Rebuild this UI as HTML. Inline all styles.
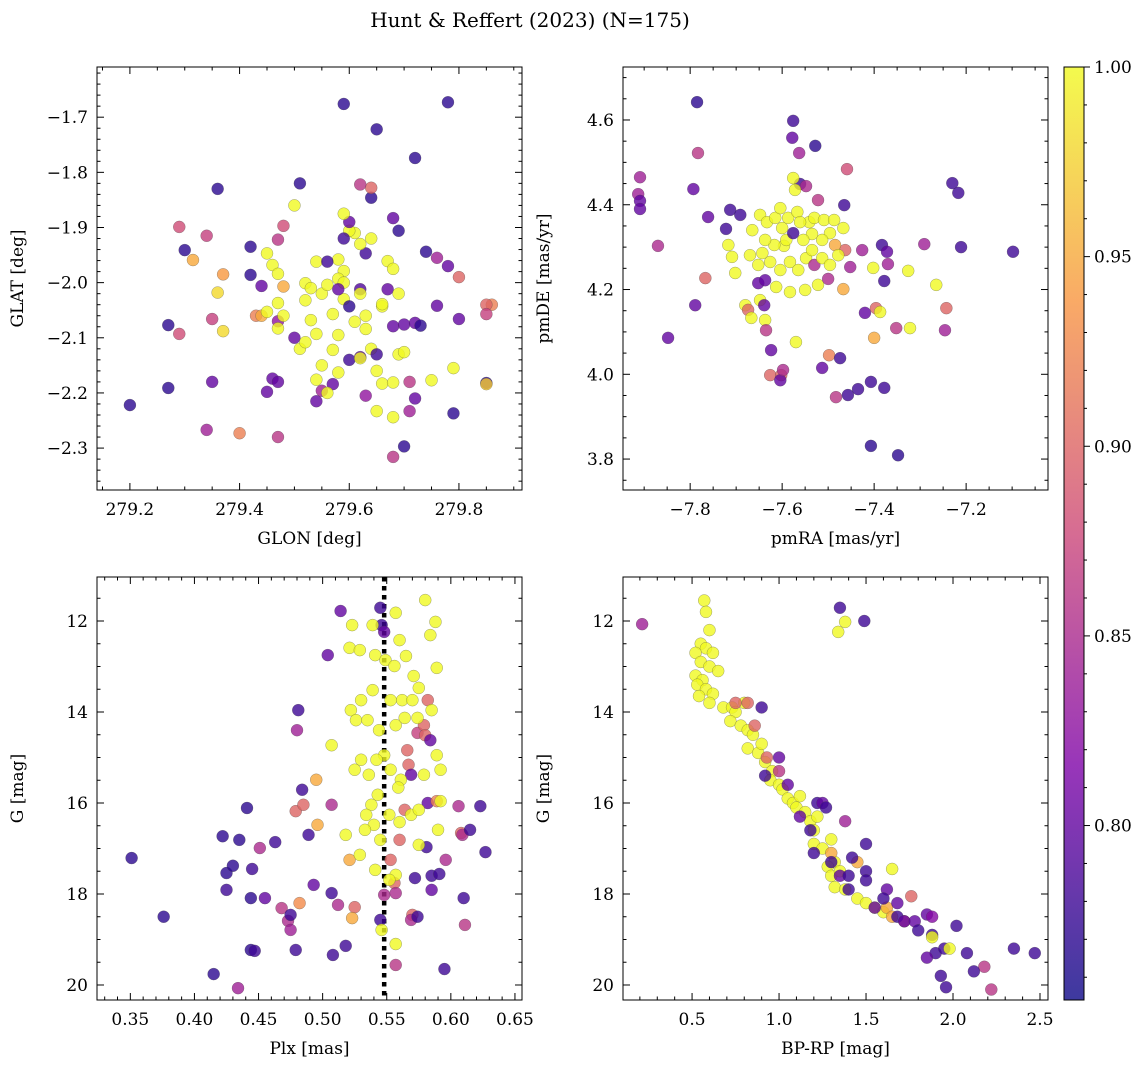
<!DOCTYPE html>
<html><head><meta charset="utf-8">
<style>
body{margin:0;background:#fff;}
svg{display:block;font-family:"DejaVu Serif","Liberation Serif",serif;}
</style></head>
<body>
<svg id="chart" width="1148" height="1067" xmlns="http://www.w3.org/2000/svg">
<text x="530" y="27" font-size="20" text-anchor="middle">Hunt &amp; Reffert (2023) (N=175)</text>
</svg>
<script>
// Panel data: [x, y, membership probability]
const skyPoints = [
[279.59,-1.676,.77],[279.78,-1.673,.77],[279.65,-1.722,.77],[279.72,-1.774,.77],[279.36,-1.830,.77],[279.51,-1.820,.77],
[279.20,-2.222,.77],[279.27,-2.077,.77],[279.27,-2.191,.77],[279.30,-1.941,.77],[279.35,-2.180,.80],[279.42,-1.935,.77],
[279.42,-1.986,.77],[279.44,-2.006,.80],[279.45,-2.198,.80],[279.46,-2.174,.80],[279.315,-1.959,.95],[279.29,-1.899,.88],
[279.29,-2.093,.88],[279.34,-1.915,.87],[279.37,-1.985,.94],[279.36,-2.018,.98],[279.37,-2.088,.98],[279.35,-2.066,.87],
[279.34,-2.267,.84],[279.40,-2.273,.92],[279.43,-2.060,.92],[279.44,-2.060,.95],[279.45,-1.947,1],[279.48,-1.897,.88],
[279.47,-1.922,.86],[279.46,-1.968,1],[279.47,-1.984,1],[279.48,-2.007,.95],[279.47,-2.037,1],[279.47,-2.070,.83],
[279.45,-2.053,1],[279.47,-2.083,1],[279.47,-2.180,.80],[279.47,-2.280,.86],[279.50,-1.860,1],[279.50,-2.100,.80],
[279.48,-2.060,1],[279.52,-2.001,1],[279.53,-2.010,1],[279.54,-1.962,1],[279.55,-2.020,1],[279.52,-2.032,1],
[279.53,-2.068,1],[279.54,-2.093,1],[279.51,-2.120,1],[279.52,-2.108,1],[279.55,-2.150,1],[279.54,-2.176,1],
[279.55,-2.196,.84],[279.54,-2.215,.80],[279.56,-2.004,1],[279.57,-2.057,1],[279.58,-2.095,1],[279.57,-2.122,1],
[279.58,-2.163,1],[279.57,-2.184,.80],[279.56,-2.200,1],[279.58,-1.958,1],[279.56,-1.962,.78],[279.59,-1.979,1],
[279.58,-1.993,1],[279.59,-2.000,1],[279.59,-2.030,1],[279.60,-2.043,.77],[279.58,-2.012,.80],[279.62,-2.012,.79],
[279.62,-2.020,1],[279.61,-2.071,1],[279.63,-2.060,1],[279.63,-2.084,1],[279.62,-2.135,.80],[279.60,-2.140,.78],
[279.62,-2.137,1],[279.64,-2.120,1],[279.65,-2.130,.78],[279.65,-2.160,1],[279.63,-2.205,.83],[279.65,-2.233,1],
[279.68,-2.244,1],[279.66,-2.183,1],[279.68,-2.181,1],[279.69,-2.130,1],[279.70,-2.126,1],[279.66,-2.043,1],
[279.66,-2.039,1],[279.63,-1.947,.78],[279.62,-1.930,1],[279.64,-1.920,1],[279.61,-1.910,1],[279.60,-1.906,1],
[279.59,-1.920,.78],[279.60,-1.890,.80],[279.59,-1.875,1],[279.64,-1.846,.77],[279.64,-1.828,.90],[279.62,-1.822,.86],
[279.68,-1.883,.80],[279.69,-1.906,.77],[279.67,-1.961,1],[279.68,-1.975,1],[279.67,-2.012,.80],[279.69,-2.020,1],
[279.68,-2.079,.80],[279.70,-2.076,.80],[279.72,-2.073,.80],[279.73,-2.078,.77],[279.70,-2.297,.77],[279.71,-2.233,.84],
[279.72,-2.210,.80],[279.71,-2.180,.86],[279.75,-2.177,1],[279.74,-1.944,.77],[279.76,-1.955,.84],[279.78,-1.970,.80],
[279.80,-1.990,.90],[279.76,-2.042,.80],[279.79,-2.237,.77],[279.79,-2.155,1],[279.68,-2.316,.86],[279.80,-2.066,.80],
[279.86,-2.040,.92],[279.85,-2.040,.90],[279.85,-2.057,.87],[279.85,-2.182,.77],[279.85,-2.184,.97]
];
const pmPoints = [
[-7.785,4.642,.77],[-7.783,4.522,.86],[-7.909,4.465,.84],[-7.913,4.425,.84],[-7.909,4.409,.80],[-7.909,4.390,.80],
[-7.793,4.437,.80],[-7.761,4.371,.80],[-7.713,4.388,.78],[-7.691,4.376,.78],[-7.722,4.343,.78],[-7.870,4.303,.85],
[-7.789,4.163,.80],[-7.848,4.086,.80],[-7.767,4.227,.90],[-7.702,4.239,1],[-7.717,4.305,1],[-7.709,4.277,1],
[-7.680,4.163,1],[-7.674,4.152,.90],[-7.667,4.133,1],[-7.665,4.340,1],[-7.652,4.215,.80],[-7.648,4.175,1],
[-7.639,4.163,.80],[-7.637,4.128,1],[-7.635,4.104,.86],[-7.624,4.057,.80],[-7.626,3.998,.90],[-7.602,3.998,.90],
[-7.604,3.986,.80],[-7.598,4.010,.85],[-7.570,4.076,1],[-7.576,4.598,.78],[-7.578,4.558,.80],[-7.563,4.522,.84],
[-7.528,4.539,.77],[-7.561,4.449,.78],[-7.548,4.444,.85],[-7.572,4.435,1],[-7.522,4.411,.86],[-7.465,4.399,.78],
[-7.459,4.484,.88],[-7.513,4.015,.80],[-7.498,4.045,.92],[-7.483,3.946,.86],[-7.474,4.038,.78],[-7.457,3.951,.78],
[-7.435,3.965,.78],[-7.407,3.982,.78],[-7.407,3.831,.77],[-7.348,3.809,.77],[-7.378,3.968,.78],[-7.400,4.086,.95],
[-7.426,4.293,.84],[-7.452,4.253,.84],[-7.420,4.145,.80],[-7.396,4.156,.90],[-7.387,4.147,1],[-7.383,4.305,.78],
[-7.370,4.260,.84],[-7.372,4.289,.80],[-7.378,4.220,.78],[-7.352,4.109,.86],[-7.322,4.109,1],[-7.326,4.244,1],
[-7.291,4.307,.84],[-7.265,4.211,1],[-7.243,4.156,.90],[-7.246,4.104,.84],[-7.230,4.451,.78],[-7.217,4.428,.78],
[-7.211,4.300,.78],[-7.098,4.289,.78],[-7.402,4.251,1],[-7.463,4.293,.90],[-7.485,4.305,.95],[-7.467,4.201,.95],
[-7.648,4.376,1],[-7.633,4.359,1],[-7.615,4.369,1],[-7.600,4.345,1],[-7.587,4.369,1],[-7.567,4.383,1],
[-7.541,4.359,1],[-7.530,4.369,1],[-7.509,4.364,1],[-7.496,4.333,1],[-7.513,4.317,1],[-7.535,4.331,1],
[-7.554,4.317,1],[-7.596,4.303,1],[-7.617,4.305,1],[-7.637,4.317,1],[-7.643,4.286,1],[-7.626,4.265,1],
[-7.604,4.246,1],[-7.583,4.265,1],[-7.565,4.246,1],[-7.548,4.274,1],[-7.530,4.258,.85],[-7.513,4.274,1],
[-7.496,4.258,1],[-7.478,4.281,1],[-7.522,4.211,1],[-7.550,4.199,1],[-7.583,4.194,1],[-7.613,4.206,1],
[-7.637,4.222,.80],[-7.652,4.258,1],[-7.670,4.281,1],[-7.500,4.225,.85],[-7.487,4.364,1],[-7.561,4.359,1],
[-7.535,4.293,1],[-7.591,4.317,1],[-7.604,4.392,1],[-7.576,4.463,1],[-7.467,4.345,1],[-7.576,4.333,.78]
];
const plxPoints = [
[0.351,17.21,.77],[0.376,18.5,.77],[0.415,19.76,.77],[0.434,20.07,.84],[0.422,16.73,.77],[0.425,17.54,.77],
[0.425,17.91,.78],[0.430,17.38,.77],[0.435,16.81,.77],[0.441,16.11,.77],[0.444,18.09,.77],[0.444,19.23,.77],
[0.447,19.25,.78],[0.445,17.45,.78],[0.451,16.99,.85],[0.455,18.09,.80],[0.463,16.86,.78],[0.468,18.31,.86],
[0.473,18.59,.85],[0.479,19.23,.78],[0.475,18.46,.78],[0.481,13.96,.78],[0.480,14.40,.84],[0.484,15.71,.78],
[0.479,16.18,.90],[0.485,16.04,.90],[0.482,18.2,.93],[0.475,18.79,.84],[0.489,16.70,.78],[0.495,15.49,.95],
[0.496,16.48,.95],[0.493,17.80,.80],[0.507,16.04,.85],[0.504,12.75,.80],[0.507,17.98,.78],[0.508,19.34,.78],
[0.512,18.24,.85],[0.514,11.78,.80],[0.518,19.14,.78],[0.521,17.25,.95],[0.525,18.29,.90],[0.523,18.53,.95],
[0.545,11.71,.78],[0.546,12.09,.78],[0.548,12.24,.80],[0.545,18.57,.78],[0.548,18.02,.85],[0.546,18.79,1],
[0.553,17.25,.90],[0.556,17.76,.90],[0.557,17.98,.85],[0.557,19.56,.86],[0.557,19.10,1],[0.560,16.81,.90],
[0.557,17.58,1],[0.564,16.15,.90],[0.567,15.16,.90],[0.566,14.84,.90],[0.569,15.38,.80],[0.570,18.46,.90],
[0.569,18.57,.85],[0.574,18.50,.78],[0.572,17.65,.78],[0.574,14.46,.87],[0.579,14.29,.90],[0.580,14.51,.90],
[0.582,13.74,.90],[0.582,16.0,.80],[0.581,16.97,.78],[0.584,14.62,.80],[0.585,17.60,.78],[0.585,17.91,.80],
[0.589,15.96,.92],[0.591,17.56,.78],[0.595,19.65,.78],[0.596,17.25,.85],[0.606,16.07,.85],[0.608,16.66,.90],
[0.610,18.09,.78],[0.609,16.70,.85],[0.611,18.68,.86],[0.615,16.59,.78],[0.623,16.07,.78],[0.627,17.08,.78],
[0.580,11.54,1],[0.588,12.02,1],[0.584,12.31,1],[0.557,11.82,1],[0.560,12.42,1],[0.539,12.09,1],
[0.523,12.09,1],[0.521,12.59,1],[0.529,12.64,1],[0.541,12.75,1],[0.549,12.86,1],[0.556,12.99,1],
[0.565,12.77,1],[0.571,13.21,1],[0.575,13.47,1],[0.589,13.03,1],[0.562,13.74,1],[0.553,13.74,1],
[0.539,13.52,1],[0.530,13.74,1],[0.522,13.96,1],[0.526,14.18,1],[0.535,14.18,1],[0.544,14.40,1],
[0.557,14.29,1],[0.564,14.13,1],[0.570,13.74,1],[0.574,14.13,1],[0.585,13.96,1],[0.548,14.95,1],
[0.542,15.05,1],[0.553,15.27,1],[0.530,15.05,1],[0.536,15.38,1],[0.525,15.27,1],[0.507,14.73,1],
[0.561,15.49,1],[0.543,15.82,1],[0.538,16.04,1],[0.534,16.26,1],[0.540,16.48,1],[0.533,16.59,1],
[0.545,16.81,1],[0.552,16.26,1],[0.560,16.42,1],[0.569,16.26,1],[0.575,16.15,1],[0.590,16.59,1],
[0.592,15.27,1],[0.579,15.38,1],[0.589,14.95,1],[0.529,17.14,1],[0.541,17.47,1],[0.552,17.69,1],
[0.518,16.70,1],[0.559,15.66,1],[0.575,16.92,1],[0.592,15.96,1]
];
const cmdPoints = [
[0.213,12.07,.84],[1.35,11.71,.78],[1.49,12.0,.78],
[0.57,11.55,1],[0.58,11.8,1],[0.6,12.2,1],[0.55,12.5,1],[0.58,12.6,1],[0.62,12.7,1],[0.52,12.7,1],[0.55,12.9,1],
[0.6,13.0,1],[0.52,13.2,1],[0.56,13.3,1],[0.65,13.1,1],[0.53,13.4,1],[0.58,13.5,1],[0.62,13.6,1],[0.54,13.65,1],
[0.6,13.8,1],[0.68,13.9,1],[0.73,13.9,1],[0.75,14.0,1],[0.8,13.8,1],[0.72,14.2,1],[0.78,14.3,1],[0.82,14.4,1],
[0.85,14.5,1],[0.82,14.8,1],[0.88,14.9,1],[0.9,14.7,1],[0.92,15.1,1],[0.96,15.3,1],[0.95,15.5,1],[1.0,15.6,1],
[1.02,15.7,1],[1.05,15.9,1],[1.08,16.0,1],[1.1,16.1,1],[1.12,15.85,1],[1.15,16.2,1],[1.18,16.4,1],[1.2,16.6,1],
[1.22,16.3,1],[1.2,16.9,1],[1.25,17.0,1],[1.3,16.8,1],[1.32,17.3,1],[1.28,17.4,1],[1.3,17.6,1],[1.32,17.85,1],
[1.35,17.5,1],[1.45,18.1,1],[1.5,18.2,1],[1.55,18.3,1],[1.6,18.4,1],[1.65,17.45,1],[1.38,17.9,1],
[0.75,13.8,.90],[0.82,13.8,.90],[0.86,14.3,.90],[0.93,15.0,.90],[1.0,15.3,.86],[1.3,17.1,.95],[1.45,17.3,.95],
[1.62,18.3,.95],[1.65,18.5,.95],[1.72,18.6,.90],[1.76,18.05,.90],[2.18,19.6,.86],[2.22,20.1,.86],
[0.9,13.9,.78],[1.0,15.0,.80],[1.22,16.0,.78],[1.25,16.0,.80],[1.38,16.4,.84],[1.27,16.1,.78],[1.18,16.6,.78],
[1.2,17.1,.78],[1.3,17.3,.78],[1.35,17.6,.80],[1.4,17.9,.78],[1.4,17.6,.78],[1.5,16.9,.78],[1.5,17.5,.78],
[1.5,17.7,.78],[1.62,17.9,.80],[1.68,18.5,.78],[1.72,18.6,.80],[1.68,18.2,.80],[1.78,18.6,.80],[1.8,18.8,.78],
[1.85,18.45,.80],[1.88,18.5,.82],[1.88,18.9,.78],[1.9,19.3,.78],[1.95,19.2,.78],[1.93,19.8,.78],[1.96,20.05,.78],
[2.02,18.7,.78],[2.08,19.3,.78],[2.12,19.7,.78],[2.35,19.2,.78],[2.47,19.3,.78],[1.85,19.4,.80],[1.6,18.1,.78],
[1.55,18.3,.80],[1.42,17.2,.78],[1.12,16.3,.80],[1.05,15.6,.80],[0.92,15.4,.78],
[1.98,19.2,1],[1.88,18.95,1],[1.34,12.24,1],[1.38,12.02,1]
];
const colorMin = 0.754, colorMax = 1.0;
const plxRef = 0.548;

const NS = "http://www.w3.org/2000/svg";
const svg = document.getElementById('chart');
function el(tag, attrs, parent){ const e=document.createElementNS(NS,tag); for(const k in attrs) e.setAttribute(k,attrs[k]); (parent||svg).appendChild(e); return e; }

const stops=[[13,8,135],[126,3,168],[204,71,120],[248,149,64],[240,249,33]];
function plasma(t){ t=Math.max(0,Math.min(1,t)); const s=t*4; const i=Math.min(3,Math.floor(s)); const f=s-i;
  const a=stops[i], b=stops[i+1]; return `rgb(${a.map((v,j)=>Math.round(v+(b[j]-v)*f)).join(',')})`; }
function fmt(v,d){ const s=v.toFixed(d); return s.startsWith('-')? '\u2212'+s.slice(1): s; }

function panel(cfg){
  const {name,x0,y0,x1,y1,xmin,xmax,ymin,ymax,invertY,xMajor,xMinor,yMajor,yMinor,xd,yd,xlabel,ylabel,points} = cfg;
  const sx=v=>x0+(v-xmin)/(xmax-xmin)*(x1-x0);
  const sy=v=> invertY ? y0+(v-ymin)/(ymax-ymin)*(y1-y0) : y1-(v-ymin)/(ymax-ymin)*(y1-y0);
  const g=el('g',{});
  
  
  const clip=el('clipPath',{id:name+'-clip'},g); el('rect',{x:x0,y:y0,width:x1-x0,height:y1-y0},clip);
  const pg=el('g',{'clip-path':`url(#${name}-clip)`},g);
  if(cfg.refLine!==undefined){
    const l=el('line',{x1:sx(cfg.refLine),x2:sx(cfg.refLine),y1:y0,y2:y1,stroke:'#000','stroke-width':4.5,'stroke-dasharray':'4.5 4.5'},pg);
    
    
  }
  points.forEach(p=>{
    const c=el('circle',{cx:sx(p[0]),cy:sy(p[1]),r:6,fill:plasma((p[2]-colorMin)/(colorMax-colorMin)),'fill-opacity':0.8,stroke:'#444','stroke-opacity':0.5,'stroke-width':0.5},pg);
    
    
  });
  el('rect',{x:x0,y:y0,width:x1-x0,height:y1-y0,fill:'none',stroke:'#000','stroke-width':1},g);
  const eps=1e-9;
  for(let v=Math.ceil(xmin/xMinor-eps)*xMinor; v<=xmax+eps; v+=xMinor){
    const isMaj=Math.abs(v/xMajor-Math.round(v/xMajor))<1e-6; const L=isMaj?7:3.5; const X=sx(v);
    el('line',{x1:X,x2:X,y1:y1,y2:y1-L,stroke:'#000','stroke-width':1},g);
    el('line',{x1:X,x2:X,y1:y0,y2:y0+L,stroke:'#000','stroke-width':1},g);
    if(isMaj){ const t=el('text',{x:X,y:y1+25,'font-size':17,'text-anchor':'middle'},g); t.textContent=fmt(v,xd);
        }
  }
  for(let v=Math.ceil(ymin/yMinor-eps)*yMinor; v<=ymax+eps; v+=yMinor){
    const isMaj=Math.abs(v/yMajor-Math.round(v/yMajor))<1e-6; const L=isMaj?7:3.5; const Y=sy(v);
    el('line',{x1:x0,x2:x0+L,y1:Y,y2:Y,stroke:'#000','stroke-width':1},g);
    el('line',{x1:x1,x2:x1-L,y1:Y,y2:Y,stroke:'#000','stroke-width':1},g);
    if(isMaj){ const t=el('text',{x:x0-9,y:Y+6,'font-size':17,'text-anchor':'end'},g); t.textContent=fmt(v,yd);
        }
  }
  const xl=el('text',{x:(x0+x1)/2,y:y1+54,'font-size':17,'text-anchor':'middle'},g); xl.textContent=xlabel;
   
  const yx=x0-74;
  const yl=el('text',{x:yx,y:(y0+y1)/2,'font-size':17,'text-anchor':'middle',transform:`rotate(-90 ${yx} ${(y0+y1)/2})`},g); yl.textContent=ylabel;
   
}

panel({name:'sky',x0:97,y0:67,x1:522,y1:490,xmin:279.14,xmax:279.915,ymin:-2.376,ymax:-1.609,xMajor:0.2,xMinor:0.05,yMajor:0.1,yMinor:0.02,xd:1,yd:1,xlabel:'GLON [deg]',ylabel:'GLAT [deg]',points:skyPoints});
panel({name:'pm',x0:623,y0:67,x1:1048,y1:490,xmin:-7.946,xmax:-7.022,ymin:3.727,ymax:4.725,xMajor:0.2,xMinor:0.05,yMajor:0.2,yMinor:0.05,xd:1,yd:1,xlabel:'pmRA [mas/yr]',ylabel:'pmDE [mas/yr]',points:pmPoints});
panel({name:'plx',x0:97,y0:577,x1:522,y1:1000,xmin:0.324,xmax:0.6555,ymin:11.033,ymax:20.33,invertY:true,xMajor:0.05,xMinor:0.01,yMajor:2,yMinor:0.5,xd:2,yd:0,xlabel:'Plx [mas]',ylabel:'G [mag]',points:plxPoints,refLine:plxRef});
panel({name:'cmd',x0:623,y0:577,x1:1048,y1:1000,xmin:0.103,xmax:2.546,ymin:11.033,ymax:20.33,invertY:true,xMajor:0.5,xMinor:0.1,yMajor:2,yMinor:0.5,xd:1,yd:0,xlabel:'BP-RP [mag]',ylabel:'G [mag]',points:cmdPoints});

// colorbar
(function(){
  const cx0=1064,cx1=1084,cy0=67,cy1=1000;
  const g=el('g',{});
  
  
  const defs=el('defs',{},g); const lg=el('linearGradient',{id:'cbgrad',x1:0,y1:1,x2:0,y2:0},defs);
  for(let i=0;i<=20;i++){ el('stop',{offset:i/20,'stop-color':plasma(i/20)},lg); }
  el('rect',{x:cx0,y:cy0,width:cx1-cx0,height:cy1-cy0,fill:'url(#cbgrad)','fill-opacity':0.8},g);
  el('rect',{x:cx0,y:cy0,width:cx1-cx0,height:cy1-cy0,fill:'none',stroke:'#000','stroke-width':1},g);
  const sy=v=>cy1-(v-colorMin)/(colorMax-colorMin)*(cy1-cy0);
  for(let k=Math.ceil(colorMin*100);k<=100;k++){
    const v=k/100, maj=k%5===0, Y=sy(v);
    el('line',{x1:cx1,x2:cx1+(maj?6:3),y1:Y,y2:Y,stroke:'#000','stroke-width':1},g);
    if(maj){ const t=el('text',{x:cx1+10,y:Y+6,'font-size':17},g); t.textContent=v.toFixed(2);
        }
  }
})();
</script>
</body></html>
